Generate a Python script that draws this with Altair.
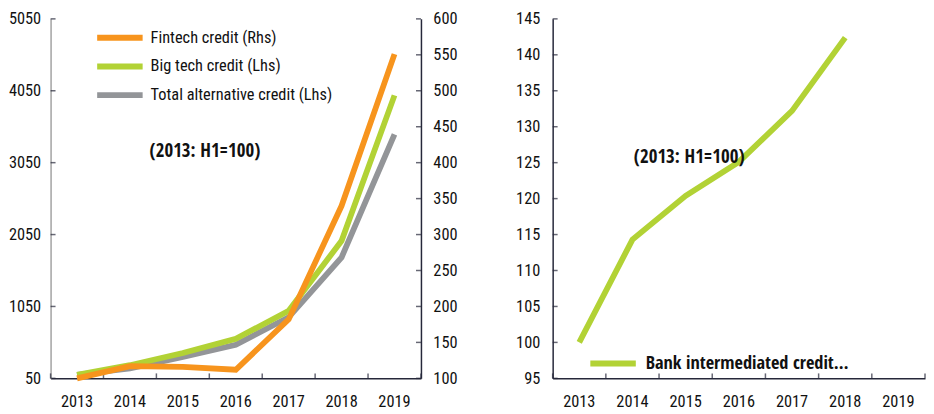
import altair as alt
import pandas as pd

years = ["2013", "2014", "2015", "2016", "2017", "2018", "2019"]
fintech = [100, 117, 116, 112, 182, 340, 551]
bigtech = [100, 233, 403, 600, 990, 1963, 3986]
total_alt = [100, 188, 348, 518, 899, 1733, 3444]
bank_years = ["2013", "2014", "2015", "2016", "2017", "2018"]
bank = [100, 114.3, 120.4, 125.1, 132.2, 142.4]

lhs_ticks = [50, 1050, 2050, 3050, 4050, 5050]
rhs_ticks = [100, 150, 200, 250, 300, 350, 400, 450, 500, 550, 600]
bank_ticks = [95, 100, 105, 110, 115, 120, 125, 130, 135, 140, 145]

names = ["Fintech credit (Rhs)", "Big tech credit (Lhs)", "Total alternative credit (Lhs)"]
colors = ["#F7941D", "#B2D235", "#939598"]
bank_name = "Bank intermediated credit…"
note = "(2013: H1=100)"

FONT = "Roboto Condensed"
BOLD_FONT = "Open Sans Condensed"
DARK = "#26283a"
LW = 5.8
W1, H = 374, 363
W2 = 376
FS = 16.5
SWATCH = "M-1.64,0H1.64"

def series_df(name, vals, yrs):
    return pd.DataFrame({"year": yrs, "value": vals, "series": [name] * len(yrs)})

xscale = alt.Scale(type="band", domain=years, paddingInner=0, paddingOuter=0)
xaxis = alt.Axis(title=None, labelAngle=0, ticks=False, grid=False, domainColor=DARK,
                 domainWidth=1.5, labelFontSize=FS, labelPadding=15, labelColor="#111")

lhs_scale = alt.Scale(domain=[50, 5050], nice=False, zero=False)
rhs_scale = alt.Scale(domain=[100, 600], nice=False, zero=False)
bank_scale = alt.Scale(domain=[95, 145], nice=False, zero=False)

lhs_axis = alt.Axis(title=None, orient="left", values=lhs_ticks, format="d", ticks=False, grid=False,
                    domainColor="#a3a3a3", domainWidth=1.5, labelFontSize=FS,
                    labelPadding=10, labelColor="#111")
rhs_axis = alt.Axis(title=None, orient="right", values=rhs_ticks, format="d", ticks=False, grid=False,
                    domainColor=DARK, domainWidth=1.5, labelFontSize=FS,
                    labelPadding=12, labelColor="#111")
bank_axis = alt.Axis(title=None, orient="left", values=bank_ticks, format="d", ticks=False, grid=False,
                     domainColor=DARK, domainWidth=1.5, labelFontSize=FS,
                     labelPadding=13, labelColor="#111")

left_legend = alt.Legend(title=None, orient="none", legendX=53, legendY=2,
                         symbolType=SWATCH, symbolStrokeWidth=6, symbolSize=784,
                         labelFontSize=16.5, labelLimit=400, labelOffset=14, rowPadding=0,
                         labelColor="#111")
color_left = alt.Color("series:N", scale=alt.Scale(domain=names, range=colors), legend=left_legend)

right_legend = alt.Legend(title=None, orient="none", legendX=44, legendY=331,
                          symbolType=SWATCH, symbolStrokeWidth=6, symbolSize=784,
                          labelFontSize=18.5, labelFont=BOLD_FONT, labelFontWeight="bold",
                          labelLimit=400, labelOffset=16, labelColor="#111")
color_right = alt.Color("series:N", scale=alt.Scale(domain=[bank_name], range=[colors[1]]),
                        legend=right_legend)


def line(df, yscale, yaxis, color):
    return alt.Chart(df).mark_line(strokeWidth=LW, strokeCap="butt").encode(
        x=alt.X("year:O", scale=xscale, axis=xaxis, bandPosition=0.5),
        y=alt.Y("value:Q", scale=yscale, axis=yaxis), color=color)


def yticks(vals, yscale, yaxis, xpos):
    return alt.Chart(pd.DataFrame({"value": vals})).mark_tick(
        orient="horizontal", size=5, thickness=1.5, color=DARK).encode(
        y=alt.Y("value:Q", scale=yscale, axis=yaxis), x=alt.value(xpos))


def xticks():
    df = pd.DataFrame({"year": years})
    start = alt.Chart(df).mark_tick(orient="vertical", size=5, thickness=1.5, color=DARK).encode(
        x=alt.X("year:O", scale=xscale, axis=xaxis, bandPosition=0),
        y=alt.value(H - 2.5))
    end = alt.Chart(df.tail(1)).mark_tick(orient="vertical", size=5, thickness=1.5, color=DARK).encode(
        x=alt.X("year:O", scale=xscale, axis=xaxis, bandPosition=1),
        y=alt.value(H - 2.5))
    return [start, end]


def note_text(xpos, ypos):
    return alt.Chart(pd.DataFrame({"t": [note]})).mark_text(
        align="left", baseline="middle", fontSize=19, font=BOLD_FONT, fontWeight="bold",
        color="#111").encode(text="t:N", x=alt.value(xpos), y=alt.value(ypos))


gray = line(series_df(names[2], total_alt, years), lhs_scale, lhs_axis, color_left)
green = line(series_df(names[1], bigtech, years), lhs_scale, lhs_axis, color_left)
orange = line(series_df(names[0], fintech, years), rhs_scale, rhs_axis, color_left)

left_lhs = alt.layer(gray, green, yticks(lhs_ticks, lhs_scale, lhs_axis, 2.5), *xticks(),
                     note_text(100, 133))
left_rhs = alt.layer(orange, yticks(rhs_ticks, rhs_scale, rhs_axis, W1 - 2.5))
left = alt.layer(left_lhs, left_rhs).resolve_scale(y="independent").properties(width=W1, height=H)

bank_line = line(series_df(bank_name, bank, bank_years), bank_scale, bank_axis, color_right)
right = alt.layer(bank_line, yticks(bank_ticks, bank_scale, bank_axis, 2.5), *xticks(),
                  note_text(82, 140)).properties(width=W2, height=H)

chart = alt.hconcat(left, right, spacing=58).resolve_scale(color="independent").properties(
    padding={"left": 0, "top": 1, "right": 0, "bottom": 0}
).configure(font=FONT).configure_view(stroke=None)

chart.save("out.html", embed_options={"renderer": "svg", "actions": False})
